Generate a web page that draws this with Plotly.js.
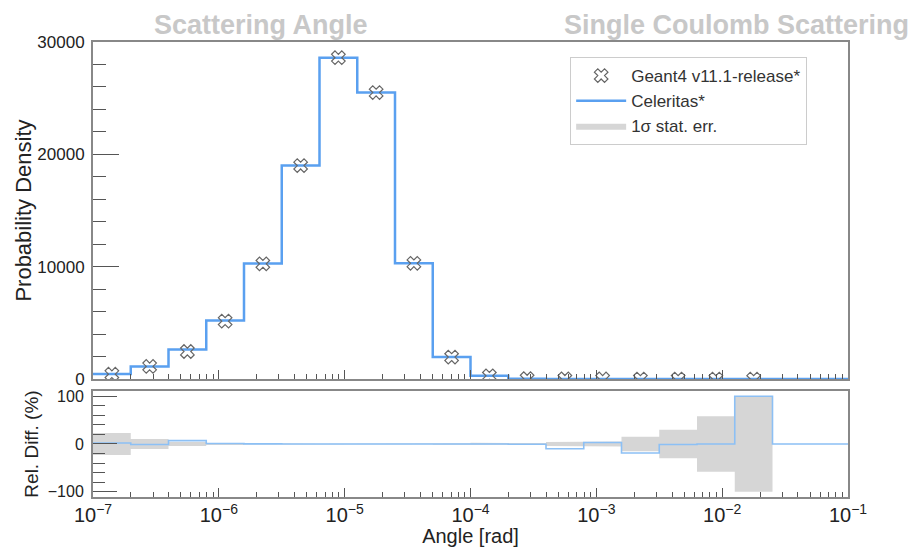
<!DOCTYPE html>
<html>
<head>
<meta charset="utf-8">
<script src="https://cdn.plot.ly/plotly-3.0.1.min.js"></script>
<style>html,body{margin:0;padding:0;background:#fff;}#chart{width:920px;height:547px;}</style>
</head>
<body>
<div id="chart"></div>
<script>
// Bin edges (log10 of angle in rad): 20 log-uniform bins from 1e-7 to 1e-1
const binEdgesLog10 = [-7.0, -6.7, -6.4, -6.1, -5.8, -5.5, -5.2, -4.9, -4.6, -4.3, -4.0,
                       -3.7, -3.4, -3.1, -2.8, -2.5, -2.2, -1.9, -1.6, -1.3, -1.0];
// Probability density per bin
const geant4Values    = [430, 1120, 2450, 5150, 10250, 19000, 28600, 25500, 10300, 1950,
                         280, 30, 8, 3, 1.2, 0.5, 0.2, 0.05, 0, 0];
const celeritasValues = [440, 1110, 2620, 5200, 10280, 19000, 28600, 25500, 10300, 1950,
                         280, 29.8, 7.2, 3.1, 0.97, 0.5, 0.2, 0.1, 0, 0];
// Relative difference (%) and 1-sigma statistical error (%)
const relDiff = [2, -1, 7, 1, 0.3, 0, 0, 0, 0, 0, 0, -0.5, -10, 3, -19, -1, 0, 100, 0, 0];
const relErr  = [23, 10.5, 4, 2, 1, 0.5, 0.4, 0.4, 0.6, 1.5, 2.5, 2, 4, 5, 15, 30, 58, 100, 0, 0];

const FONT = 'Liberation Sans, Arial, Helvetica, sans-serif';
const edges = binEdgesLog10.map(e => Math.pow(10, e));
const centers = [];
for (let i = 0; i < binEdgesLog10.length - 1; i++) {
  centers.push(Math.pow(10, (binEdgesLog10[i] + binEdgesLog10[i + 1]) / 2));
}

// Step line helpers
const stepX = edges.slice();
const celY = celeritasValues.concat([celeritasValues[celeritasValues.length - 1]]);
const relY = relDiff.concat([relDiff[relDiff.length - 1]]);

// Geant4 markers (only non-empty bins)
const g4x = [], g4y = [];
geant4Values.forEach((v, i) => { if (v > 0) { g4x.push(centers[i]); g4y.push(v); } });

// Error band polygon
const bandX = [], bandY = [];
const nb = relErr.length;
for (let i = 0; i < nb; i++) {
  if (relErr[i] > 0) { bandX.push(edges[i], edges[i + 1]); bandY.push(relErr[i], relErr[i]); }
}
for (let i = nb - 1; i >= 0; i--) {
  if (relErr[i] > 0) { bandX.push(edges[i + 1], edges[i]); bandY.push(-relErr[i], -relErr[i]); }
}

const traces = [
  {
    x: stepX, y: celY, type: 'scatter', mode: 'lines', line: {shape: 'hv', color: '#5aa0f0', width: 2.5},
    name: 'Celeritas*', xaxis: 'x', yaxis: 'y', legendrank: 2, hoverinfo: 'skip'
  },
  {
    x: g4x, y: g4y, type: 'scatter', mode: 'markers',
    marker: {symbol: 'x-open', size: 12, color: '#666', line: {width: 1.2, color: '#666'}},
    name: 'Geant4 v11.1-release*', xaxis: 'x', yaxis: 'y', legendrank: 1
  },
  {
    x: bandX, y: bandY, type: 'scatter', mode: 'lines', fill: 'toself', fillcolor: '#d6d6d6',
    line: {width: 0, color: '#d6d6d6'}, name: '1σ stat. err.', xaxis: 'x2', yaxis: 'y2', legendrank: 3
  },
  {
    x: stepX, y: relY, type: 'scatter', mode: 'lines', line: {shape: 'hv', color: '#8cc0f5', width: 1.6},
    showlegend: false, xaxis: 'x2', yaxis: 'y2'
  }
];

const axisCommon = {
  showline: true, mirror: true, linecolor: '#888', linewidth: 2,
  showgrid: false, zeroline: false, ticks: 'inside', tickcolor: '#555',
  tickfont: {family: FONT, size: 16, color: '#222'}
};

const layout = {
  width: 920, height: 547,
  margin: {l: 93, r: 72, t: 42, b: 50},
  paper_bgcolor: '#fff', plot_bgcolor: '#fff',
  font: {family: FONT, color: '#222'},
  showlegend: true,
  legend: {
    x: 0.632, y: 0.967, xanchor: 'left', yanchor: 'top',
    bgcolor: '#fff', bordercolor: '#ccc', borderwidth: 1,
    font: {family: FONT, size: 17, color: '#333'}, itemwidth: 50
  },
  xaxis: Object.assign({}, axisCommon, {
    type: 'log', range: [-7, -1], domain: [0, 1], anchor: 'y', matches: 'x2',
    dtick: 1, ticklen: 9, showticklabels: false,
    minor: {ticks: 'inside', ticklen: 5, dtick: 'D1', tickcolor: '#555'}
  }),
  yaxis: Object.assign({}, axisCommon, {
    domain: [0.2593, 1], range: [0, 30000], dtick: 10000, tickformat: 'd', ticklen: 26,
    tickfont: {family: FONT, size: 17, color: '#222'}, ticklabelstandoff: 3,
    minor: {ticks: 'inside', ticklen: 13, dtick: 2000, tickcolor: '#555'},
    title: {text: 'Probability Density', font: {family: FONT, size: 22, color: '#222'}, standoff: 0}
  }),
  xaxis2: Object.assign({}, axisCommon, {
    type: 'log', range: [-7, -1], domain: [0, 1], anchor: 'y2',
    dtick: 1, ticklen: 9, exponentformat: 'power',
    minor: {ticks: 'inside', ticklen: 5, dtick: 'D1', tickcolor: '#555'},
    title: {text: 'Angle [rad]', font: {family: FONT, size: 20, color: '#222'}, standoff: 4}
  }),
  yaxis2: Object.assign({}, axisCommon, {
    domain: [0, 0.233], range: [-111, 111], tickvals: [-100, 0, 100], ticklen: 24,
    ticklabelstandoff: 4,
    minor: {ticks: 'inside', ticklen: 12, dtick: 20, tickcolor: '#555'},
    title: {text: 'Rel. Diff. (%)', font: {family: FONT, size: 19, color: '#222'}, standoff: 4}
  }),
  annotations: [
    {text: '<b>Scattering Angle</b>', xref: 'paper', yref: 'paper', x: 0.0777, y: 1.037,
     xanchor: 'left', yanchor: 'middle', showarrow: false,
     font: {family: FONT, size: 27, color: '#c8c8c8'}},
    {text: '<b>Single Coulomb Scattering</b>', xref: 'paper', yref: 'paper', x: 0.621, y: 1.037,
     xanchor: 'left', yanchor: 'middle', showarrow: false,
     font: {family: FONT, size: 27, color: '#c8c8c8'}}
  ]
};

Plotly.newPlot('chart', traces, layout, {displayModeBar: false, staticPlot: true});
</script>
</body>
</html>
